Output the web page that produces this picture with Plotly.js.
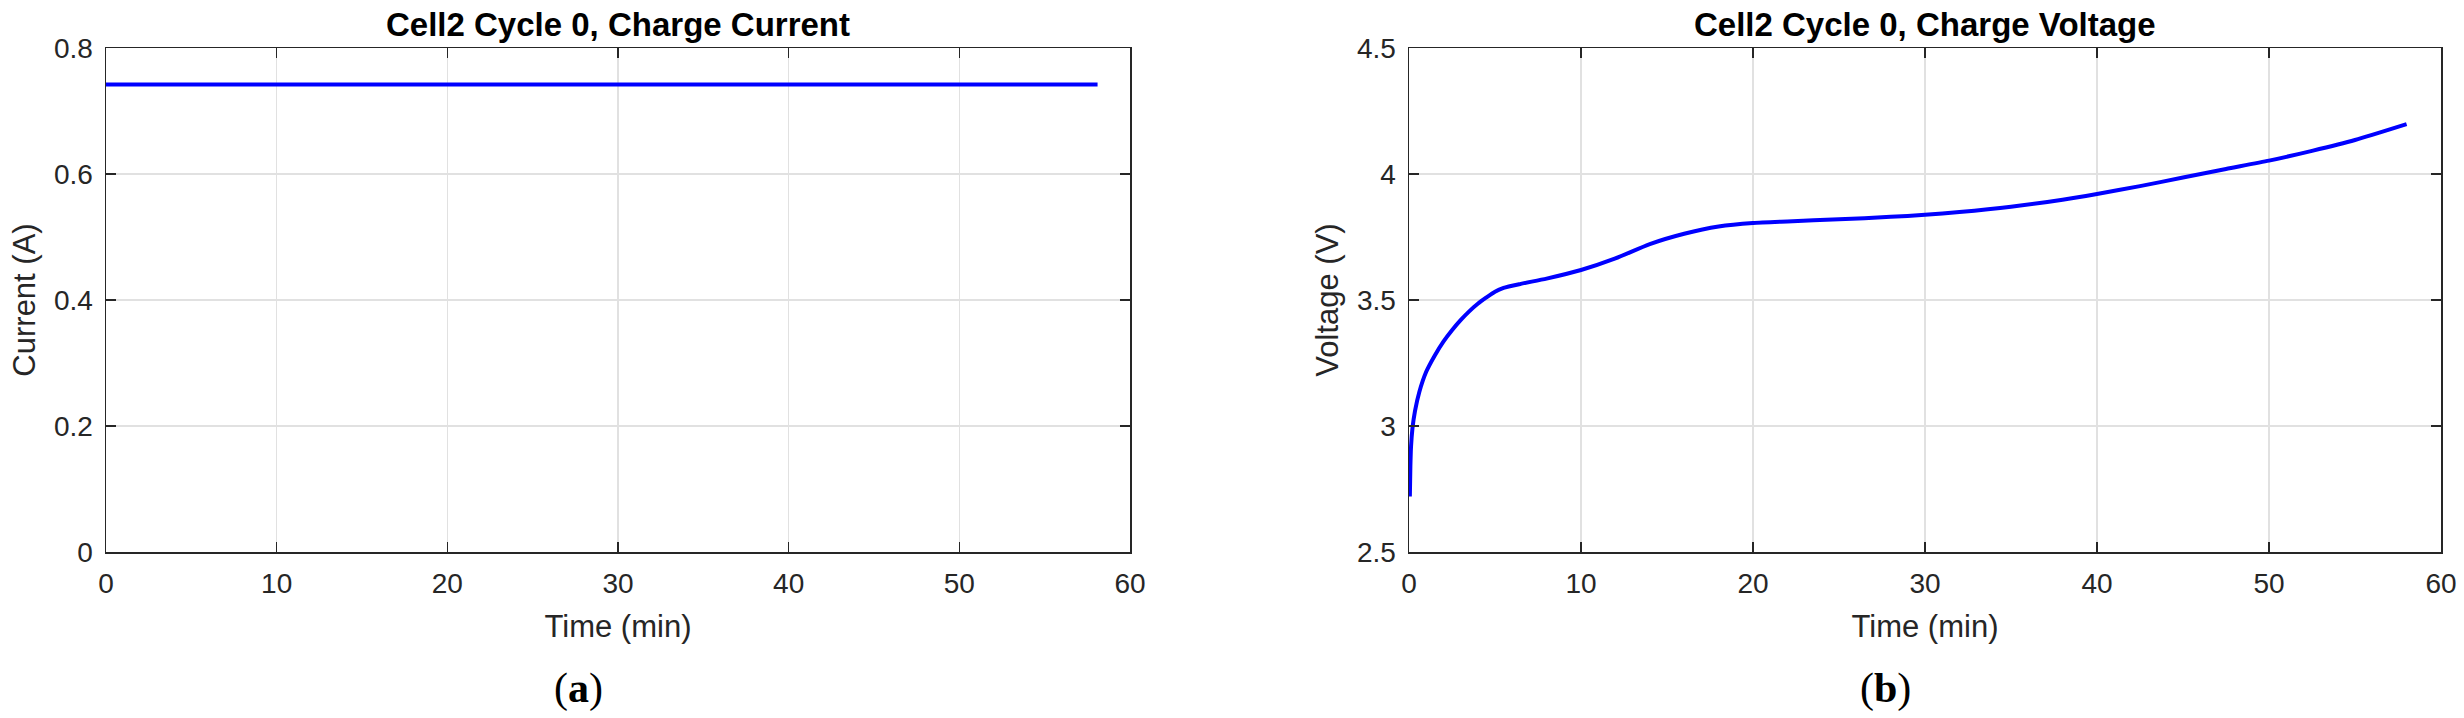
<!DOCTYPE html>
<html>
<head>
<meta charset="utf-8">
<script src="https://cdn.plot.ly/plotly-3.0.1.min.js"></script>
<style>
  html, body { margin: 0; padding: 0; background: #ffffff; }
  #chart { width: 2464px; height: 718px; }
</style>
</head>
<body>
<div id="chart"></div>
<script>
// ---- data ----
var timeCurrent = [0, 10, 20, 30, 40, 50, 58.1];
var chargeCurrent = [0.742, 0.742, 0.742, 0.742, 0.742, 0.742, 0.742];

var timeVoltage = [0.05, 0.08, 0.12, 0.2, 0.35, 0.6, 1.0, 1.5, 2.0, 2.5, 3.0, 3.5, 4.0, 4.5,
                   5.0, 5.5, 6.5, 8.0, 10.0, 12.0, 14.0, 16.0, 18.0, 20.0, 22.0, 25.0, 28.0,
                   30.0, 32.0, 35.0, 38.0, 40.0, 42.5, 45.0, 47.5, 50.0, 52.5, 55.0, 58.0];
var chargeVoltage = [2.72, 2.84, 2.92, 2.99, 3.06, 3.135, 3.215, 3.28, 3.335, 3.38, 3.42, 3.455, 3.485, 3.51,
                     3.533, 3.548, 3.564, 3.585, 3.619, 3.665, 3.722, 3.763, 3.792, 3.806, 3.812, 3.820, 3.830,
                     3.838, 3.849, 3.870, 3.898, 3.921, 3.952, 3.986, 4.02, 4.053, 4.092, 4.135, 4.198];

var xTicks = [0, 10, 20, 30, 40, 50, 60];
var currentTicks = [0, 0.2, 0.4, 0.6, 0.8];
var voltageTicks = [2.5, 3, 3.5, 4, 4.5];

var titleLeft = 'Cell2 Cycle 0, Charge Current';
var titleRight = 'Cell2 Cycle 0, Charge Voltage';
var xLabel = 'Time (min)';
var yLabelLeft = 'Current (A)';
var yLabelRight = 'Voltage (V)';
var panelLeft = '(<b>a</b>)';
var panelRight = '(<b>b</b>)';

// ---- layout helpers ----
var W = 2464, H = 718;
function px(x) { return x / W; }
function py(y) { return 1 - y / H; }

var axisColor = '#262626';
var tickFont = { family: 'Liberation Sans, Arial, sans-serif', size: 28, color: axisColor };
var titleFont = { family: 'Liberation Sans, Arial, sans-serif', size: 31, color: axisColor };

function xAxis(domain) {
  return {
    domain: domain, range: [0, 60], tickvals: xTicks, ticks: 'inside', ticklen: 10,
    tickwidth: 1.5, tickcolor: axisColor, showline: true, linecolor: axisColor, linewidth: 1.5,
    mirror: 'ticks', showgrid: true, gridcolor: '#e1e1e1', gridwidth: 1.2, zeroline: false,
    tickfont: tickFont, ticklabelstandoff: 6,
    title: { text: xLabel, font: titleFont, standoff: 17 }
  };
}
function yAxis(range, vals, label, anchor) {
  return {
    domain: [py(552), py(48)], range: range, tickvals: vals, ticks: 'inside', ticklen: 10,
    tickwidth: 1.5, tickcolor: axisColor, showline: true, linecolor: axisColor, linewidth: 1.5,
    mirror: 'ticks', showgrid: true, gridcolor: '#e1e1e1', gridwidth: 1.2, zeroline: false,
    tickfont: tickFont, ticklabelstandoff: 6, anchor: anchor,
    title: { text: label, font: titleFont, standoff: 9 }
  };
}

var traces = [
  { x: timeCurrent, y: chargeCurrent, xaxis: 'x', yaxis: 'y', mode: 'lines',
    line: { color: '#0000ff', width: 4 }, showlegend: false, hoverinfo: 'skip' },
  { x: timeVoltage, y: chargeVoltage, xaxis: 'x2', yaxis: 'y2', mode: 'lines',
    line: { color: '#0000ff', width: 4, shape: 'spline', smoothing: 0.6 }, showlegend: false, hoverinfo: 'skip' }
];

var xa1 = xAxis([px(106), px(1130)]); xa1.anchor = 'y';
var xa2 = xAxis([px(1409), px(2441)]); xa2.anchor = 'y2';

var layout = {
  width: W, height: H,
  margin: { l: 0, r: 0, t: 0, b: 0, pad: 0 },
  paper_bgcolor: '#ffffff', plot_bgcolor: '#ffffff',
  showlegend: false,
  xaxis: xa1,
  yaxis: yAxis([0, 0.8], currentTicks, yLabelLeft, 'x'),
  xaxis2: xa2,
  yaxis2: yAxis([2.5, 4.5], voltageTicks, yLabelRight, 'x2'),
  annotations: [
    { text: titleLeft, xref: 'paper', yref: 'paper', x: px(618), y: py(24), xanchor: 'center', yanchor: 'middle',
      showarrow: false, font: { family: 'Liberation Sans, Arial, sans-serif', size: 33, color: '#000000', weight: 'bold' } },
    { text: titleRight, xref: 'paper', yref: 'paper', x: px(1925), y: py(24), xanchor: 'center', yanchor: 'middle',
      showarrow: false, font: { family: 'Liberation Sans, Arial, sans-serif', size: 33, color: '#000000', weight: 'bold' } },
    { text: panelLeft, xref: 'paper', yref: 'paper', x: px(578), y: py(688), xanchor: 'center', yanchor: 'middle',
      showarrow: false, font: { family: 'Liberation Serif, Times New Roman, serif', size: 42, color: '#000000' } },
    { text: panelRight, xref: 'paper', yref: 'paper', x: px(1885), y: py(688), xanchor: 'center', yanchor: 'middle',
      showarrow: false, font: { family: 'Liberation Serif, Times New Roman, serif', size: 42, color: '#000000' } }
  ]
};

Plotly.newPlot('chart', traces, layout, { staticPlot: true, displayModeBar: false });
</script>
</body>
</html>
